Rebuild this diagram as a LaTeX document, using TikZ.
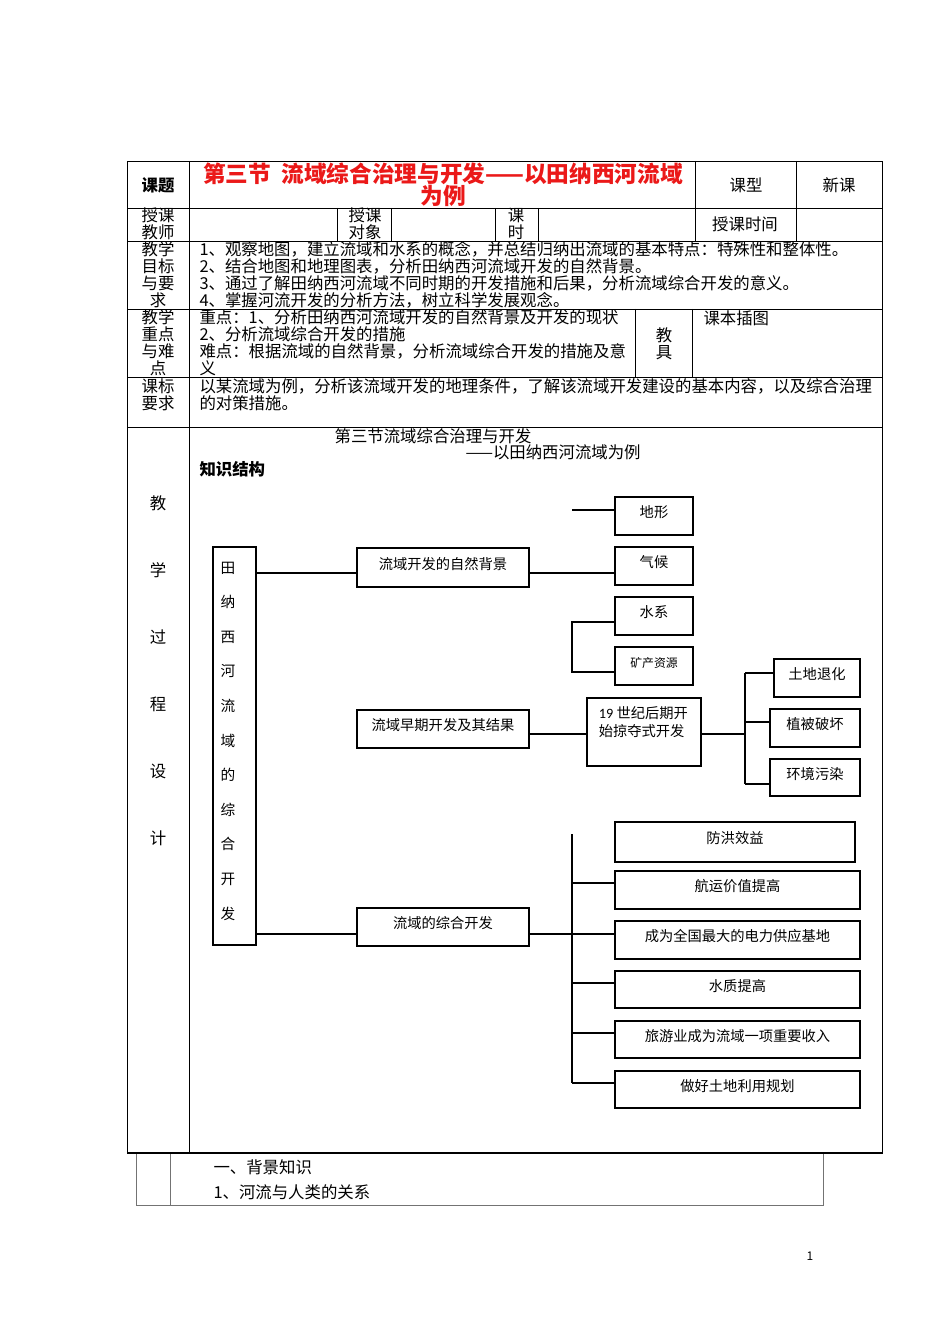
\documentclass[tikz,border=0pt]{standalone}
\usepackage{fontspec}
\newfontfamily\cjk{Noto Sans CJK SC}
\newfontfamily\calib{Carlito}
\definecolor{titlered}{RGB}{235,25,25}
\tikzset{
	tabline/.style={line width=0.6pt},
	subline/.style={line width=0.6pt, black!55},
	sized/.style 2 args={minimum width=#1*0.75pt, minimum height=#2*0.75pt},
	box/.style={draw, line width=1pt, inner sep=0pt, font=\cjk\fontsize{10.7}{12}\selectfont,
		text height=0.9em, text depth=0.62em},
	boxtext/.style={inner sep=0pt, font=\cjk\fontsize{10.7}{13.5}\selectfont},
	link/.style={line width=0.9pt},
	cell/.style={inner sep=0pt, align=center, font=\cjk\fontsize{12.3}{12.75}\selectfont},
	txt/.style={inner sep=0pt, align=left, anchor=west, font=\cjk\fontsize{12.3}{12.75}\selectfont}
}

\begin{document}
\begin{tikzpicture}[x=0.75pt, y=-0.75pt, thick]
	\fill[white] (0,0) rectangle (950,1344);
	\useasboundingbox (0,0) rectangle (950,1344);
	
	% table
	\draw[subline] (136,1153) rectangle (823,1205) (170,1153) -- (170,1205);
	\draw[tabline] (127,161) rectangle (882,1153);
	\draw[tabline] (127,208) -- (882,208) (127,241) -- (882,241) (127,309) -- (882,309)
		(127,377) -- (882,377) (127,427) -- (882,427);
	\draw[tabline] (189,161) -- (189,1153) (695,161) -- (695,241) (796,161) -- (796,241);
	\draw[tabline] (337,208) -- (337,241) (391,208) -- (391,241) (495,208) -- (495,241) (538,208) -- (538,241);
	\draw[tabline] (635,309) -- (635,377) (692,309) -- (692,377);
	\draw[line width=1.2pt] (127,1153) -- (882,1153);
	
	\node[cell, font=\cjk\bfseries\fontsize{12.3}{12.75}\selectfont] (topic) at (158,185) {课题};
	\node[cell, text=titlered, font=\cjk\bfseries\fontsize{17}{16.5}\selectfont] (title) at (443,185)
		{第三节\ \ 流域综合治理与开发——以田纳西河流域\\为例};
	\node[cell] (kind) at (746,185) {课型};
	\node[cell] (kindval) at (839,185) {新课};
	\node[cell] (teacher) at (158,224) {授课\\教师};
	\node[cell] (target) at (365,224) {授课\\对象};
	\node[cell] (hours) at (516,224) {课\\时};
	\node[cell] (time) at (745,224) {授课时间};
	
	\node[cell] (goal) at (158,275) {教学\\目标\\与要\\求};
	\node[txt] (goaltxt) at (199,275) {1、观察地图，建立流域和水系的概念，并总结归纳出流域的基本特点：特殊性和整体性。\\
		2、结合地图和地理图表，分析田纳西河流域开发的自然背景。\\
		3、通过了解田纳西河流域不同时期的开发措施和后果，分析流域综合开发的意义。\\
		4、掌握河流开发的分析方法，树立科学发展观念。};
	\node[cell] (key) at (158,343) {教学\\重点\\与难\\点};
	\node[txt] (keytxt) at (199,343) {重点：1、分析田纳西河流域开发的自然背景及开发的现状\\
		2、分析流域综合开发的措施\\
		难点：根据流域的自然背景，分析流域综合开发的措施及意\\
		义};
	\node[cell] (tools) at (664,343.5) {教\\具};
	\node[txt] (toolstxt) at (703,318) {课本插图};
	\node[cell] (std) at (158,394.5) {课标\\要求};
	\node[txt] (stdtxt) at (199,394.5) {以某流域为例，分析该流域开发的地理条件，了解该流域开发建设的基本内容，以及综合治理\\
		的对策措施。};
	\node[cell, font=\cjk\fontsize{12.3}{50.25}\selectfont] (process) at (158,670.5) {教\\学\\过\\程\\设\\计};
	
	\node[cell] (head) at (433,436) {第三节流域综合治理与开发};
	\node[txt] (subhead) at (465,452) {——以田纳西河流域为例};
	\node[txt, font=\cjk\bfseries\fontsize{12.3}{12.75}\selectfont] (struct) at (199,469) {知识结构};
	
	% knowledge tree
	\node[box, sized={43}{398}] (tree) at (234.5,746) {};
	\node[cell, font=\cjk\fontsize{11}{25.95}\selectfont] (treetxt) at (228,741) {田\\纳\\西\\河\\流\\域\\的\\综\\合\\开\\发};
	
	\node[box, sized={172}{39}] (bg) at (443,567.5) {流域开发的自然背景};
	\node[box, sized={172}{38}] (early) at (443,729) {流域早期开发及其结果};
	\node[box, sized={172}{38}] (comp) at (443,927) {流域的综合开发};
	
	\node[box, sized={78}{38}] (terrain) at (654,516) {地形};
	\node[box, sized={78}{38}] (climate) at (654,566) {气候};
	\node[box, sized={78}{38}] (water) at (654,616) {水系};
	\node[box, sized={78}{38}, font=\cjk\fontsize{8.9}{10}\selectfont] (mineral) at (654,666) {矿产资源};
	
	\node[box, sized={114}{68}] (plunder) at (644,732) {};
	\node[boxtext, anchor=north west, align=left] (plundertxt) at ([shift={(12,9)}]plunder.north west)
		{{\calib 19} 世纪后期开\\始掠夺式开发};
	\node[box, sized={86}{38}] (soil) at (817,678) {土地退化};
	\node[box, sized={90}{38}] (veg) at (815,728) {植被破坏};
	\node[box, sized={90}{37}] (pollu) at (815,777.5) {环境污染};
	
	\node[box, sized={240}{40}] (flood) at (735,842) {防洪效益};
	\node[box, sized={245}{38}] (nav) at (737.5,890) {航运价值提高};
	\node[box, sized={245}{38}] (power) at (737.5,940) {成为全国最大的电力供应基地};
	\node[box, sized={245}{37}] (quality) at (737.5,989.5) {水质提高};
	\node[box, sized={245}{37}] (tour) at (737.5,1039.5) {旅游业成为流域一项重要收入};
	\node[box, sized={245}{37}] (land) at (737.5,1089.5) {做好土地利用规划};
	
	\coordinate (row1) at (0,573);
	\coordinate (row2) at (0,734);
	\coordinate (row3) at (0,934);
	\coordinate (tstub) at (572,510);
	\coordinate (wfork) at (572,622);
	\coordinate (mfork) at (572,672);
	\coordinate (pfork) at (745,734);
	\coordinate (s1) at (745,673);
	\coordinate (s2) at (745,722);
	\coordinate (s3) at (745,784);
	\coordinate (ctop) at (572,834);
	\coordinate (cbot) at (572,1083);
	
	\draw[link] (tree.east |- row1) -- (bg.west |- row1);
	\draw[link] (bg.east |- row1) -- (climate.west |- row1);
	\draw[link] (tstub) -- (terrain.west |- tstub);
	\draw[link] (water.west |- wfork) -- (wfork) -- (mfork) -- (mineral.west |- mfork);
	
	\draw[link] (early.east |- row2) -- (plunder.west |- row2);
	\draw[link] (plunder.east |- pfork) -- (pfork);
	\draw[link] (s1) -- (s3);
	\draw[link] (s1) -- (soil.west |- s1);
	\draw[link] (s2) -- (veg.west |- s2);
	\draw[link] (s3) -- (pollu.west |- s3);
	
	\draw[link] (tree.east |- row3) -- (comp.west |- row3);
	\draw[link] (comp.east |- row3) -- (power.west |- row3);
	\draw[link] (ctop) -- (cbot);
	\draw[link] (ctop |- 0,883) -- (nav.west |- 0,883);
	\draw[link] (ctop |- 0,983) -- (quality.west |- 0,983);
	\draw[link] (ctop |- 0,1033) -- (tour.west |- 0,1033);
	\draw[link] (cbot) -- (land.west |- cbot);
	
	\node[txt] (bgknow) at (213,1167) {一、背景知识};
	\node[txt] (river) at (213,1192) {1、河流与人类的关系};
	\node[cell, font=\cjk\fontsize{9}{9}\selectfont] (pageno) at (810,1256) {1};
\end{tikzpicture}
\end{document}
